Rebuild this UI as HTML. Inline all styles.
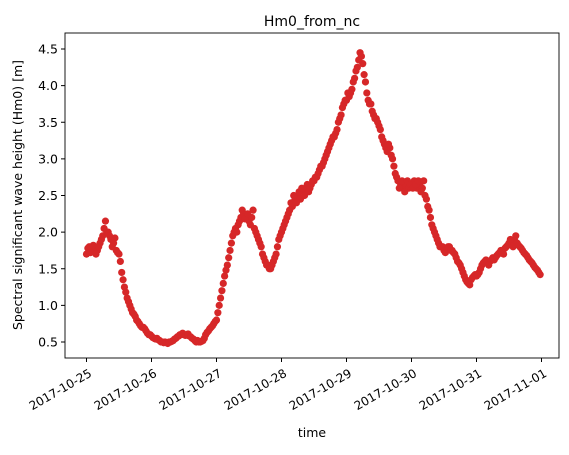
<!DOCTYPE html>
<html><head><meta charset="utf-8"><style>
body{margin:0;background:#fff;}
svg{font-family:"DejaVu Sans","Liberation Sans",sans-serif;}
</style></head><body>
<svg id="chart" width="569" height="450" xmlns="http://www.w3.org/2000/svg">
<rect width="569" height="450" fill="#fff"/>
<text x="312" y="26" font-size="14" text-anchor="middle">Hm0_from_nc</text>
<text x="312" y="437" font-size="12.5" text-anchor="middle">time</text>
<text transform="translate(22,195) rotate(-90)" font-size="12.5" text-anchor="middle">Spectral significant wave height (Hm0) [m]</text>
<g id="points"></g>
<g id="axes"></g>
</svg>
<script>
const day1 = [1.7,1.8,1.75,1.8,1.75,1.85,1.95,2.15,2.0,1.9,1.85,1.75,1.7,1.45,1.25,1.1,1.0,0.9,0.85,0.78,0.72,0.7,0.65,0.6];
const day2 = [0.58,0.55,0.55,0.52,0.5,0.5,0.48,0.5,0.52,0.55,0.58,0.6,0.6,0.6,0.58,0.55,0.52,0.52,0.5,0.52,0.6,0.65,0.7,0.75];
const day3 = [0.8,1.0,1.2,1.4,1.55,1.75,1.95,2.05,2.1,2.2,2.25,2.2,2.15,2.2,2.05,1.95,1.85,1.7,1.6,1.55,1.5,1.6,1.7,1.9];
const day4 = [2.0,2.1,2.2,2.3,2.35,2.45,2.5,2.45,2.55,2.6,2.55,2.65,2.7,2.75,2.85,2.9,3.0,3.1,3.2,3.3,3.35,3.5,3.6,3.75];
const day5 = [3.8,3.85,3.95,4.1,4.25,4.45,4.3,4.05,3.8,3.75,3.6,3.55,3.45,3.3,3.2,3.1,3.15,3.0,2.8,2.7,2.65,2.6,2.65,2.6];
const day6 = [2.65,2.7,2.6,2.65,2.6,2.5,2.35,2.2,2.05,1.95,1.85,1.8,1.75,1.75,1.8,1.75,1.7,1.6,1.55,1.45,1.35,1.3,1.35,1.4];
const day7 = [1.4,1.45,1.55,1.6,1.6,1.6,1.65,1.65,1.7,1.75,1.7,1.8,1.85,1.85,1.9,1.85,1.8,1.75,1.7,1.65,1.6,1.55,1.5,1.45];
const day1half = [1.78,1.72,1.82,1.7,1.8,1.9,2.05,2.0,1.95,1.8,1.92,1.72,1.6,1.35,1.18,1.05,0.95,0.88,0.8,0.75,0.7,0.68,0.62,0.6];
const day2half = [0.56,0.54,0.53,0.5,0.49,0.49,0.5,0.51,0.54,0.57,0.6,0.62,0.59,0.61,0.57,0.54,0.5,0.5,0.51,0.55,0.63,0.68,0.72,0.78];
const day3half = [0.9,1.1,1.3,1.48,1.65,1.85,2.0,2.0,2.15,2.3,2.18,2.25,2.1,2.3,2.0,1.9,1.8,1.65,1.55,1.5,1.55,1.65,1.8,1.95];
const day4half = [2.05,2.15,2.25,2.4,2.5,2.4,2.55,2.6,2.5,2.65,2.6,2.7,2.75,2.8,2.9,2.95,3.05,3.15,3.25,3.3,3.4,3.55,3.7,3.8];
const day5half = [3.9,3.9,4.05,4.2,4.35,4.4,4.15,3.9,3.75,3.65,3.55,3.5,3.4,3.25,3.15,3.2,3.05,2.9,2.75,2.6,2.7,2.55,2.7,2.65];
const day6half = [2.6,2.65,2.7,2.55,2.7,2.45,2.3,2.1,2.0,1.9,1.8,1.8,1.72,1.8,1.75,1.72,1.65,1.58,1.5,1.4,1.32,1.28,1.38,1.42];
const day7half = [1.42,1.5,1.58,1.62,1.55,1.62,1.62,1.68,1.72,1.72,1.78,1.82,1.9,1.8,1.95,1.82,1.78,1.72,1.68,1.62,1.58,1.52,1.48,1.42];
const xTickLabels = ["2017-10-25","2017-10-26","2017-10-27","2017-10-28","2017-10-29","2017-10-30","2017-10-31","2017-11-01"];
const yTicks = [0.5,1.0,1.5,2.0,2.5,3.0,3.5,4.0,4.5];

const NS="http://www.w3.org/2000/svg";
const L=65,R=559,T=33,B=358;
const xScale=d=>86.5+65*d;
const yScale=v=>342-(v-0.5)*73.25;
const days=[day1,day2,day3,day4,day5,day6,day7];
const halves=[day1half,day2half,day3half,day4half,day5half,day6half,day7half];
const pg=document.getElementById('points');
function addPoint(d,v){
  const c=document.createElementNS(NS,'circle');
  c.setAttribute('cx',xScale(d));c.setAttribute('cy',yScale(v));
  c.setAttribute('r',3.6);c.setAttribute('fill','#d62728');
  
  
  pg.appendChild(c);
}
days.forEach((arr,di)=>arr.forEach((v,h)=>addPoint(di+h/24,v)));
halves.forEach((arr,di)=>arr.forEach((v,h)=>addPoint(di+(h+0.5)/24,v)));
const ag=document.getElementById('axes');
const fr=document.createElementNS(NS,'rect');
fr.setAttribute('x',L);fr.setAttribute('y',T);fr.setAttribute('width',R-L);fr.setAttribute('height',B-T);
fr.setAttribute('fill','none');fr.setAttribute('stroke','#000');fr.setAttribute('stroke-width','0.9');


ag.appendChild(fr);
xTickLabels.forEach((lab,i)=>{
  const x=xScale(i);
  const t=document.createElementNS(NS,'line');
  t.setAttribute('x1',x);t.setAttribute('x2',x);t.setAttribute('y1',B);t.setAttribute('y2',B+4);t.setAttribute('stroke','#000');
  
  
  ag.appendChild(t);
  const tx=document.createElementNS(NS,'text');
  tx.setAttribute('transform',`translate(${x+4},${B+14}) rotate(-30)`);
  tx.setAttribute('text-anchor','end');tx.setAttribute('font-size','12');tx.setAttribute('dy','0.35em');
  tx.textContent=lab;
  
  
  ag.appendChild(tx);
});
yTicks.forEach(v=>{
  const y=yScale(v);
  const t=document.createElementNS(NS,'line');
  t.setAttribute('x1',L-4);t.setAttribute('x2',L);t.setAttribute('y1',y);t.setAttribute('y2',y);t.setAttribute('stroke','#000');
  
  
  ag.appendChild(t);
  const tx=document.createElementNS(NS,'text');
  tx.setAttribute('x',L-7);tx.setAttribute('y',y+4.5);tx.setAttribute('text-anchor','end');tx.setAttribute('font-size','12.5');
  tx.textContent=v.toFixed(1);
  
  
  ag.appendChild(tx);
});
</script>
</body></html>
